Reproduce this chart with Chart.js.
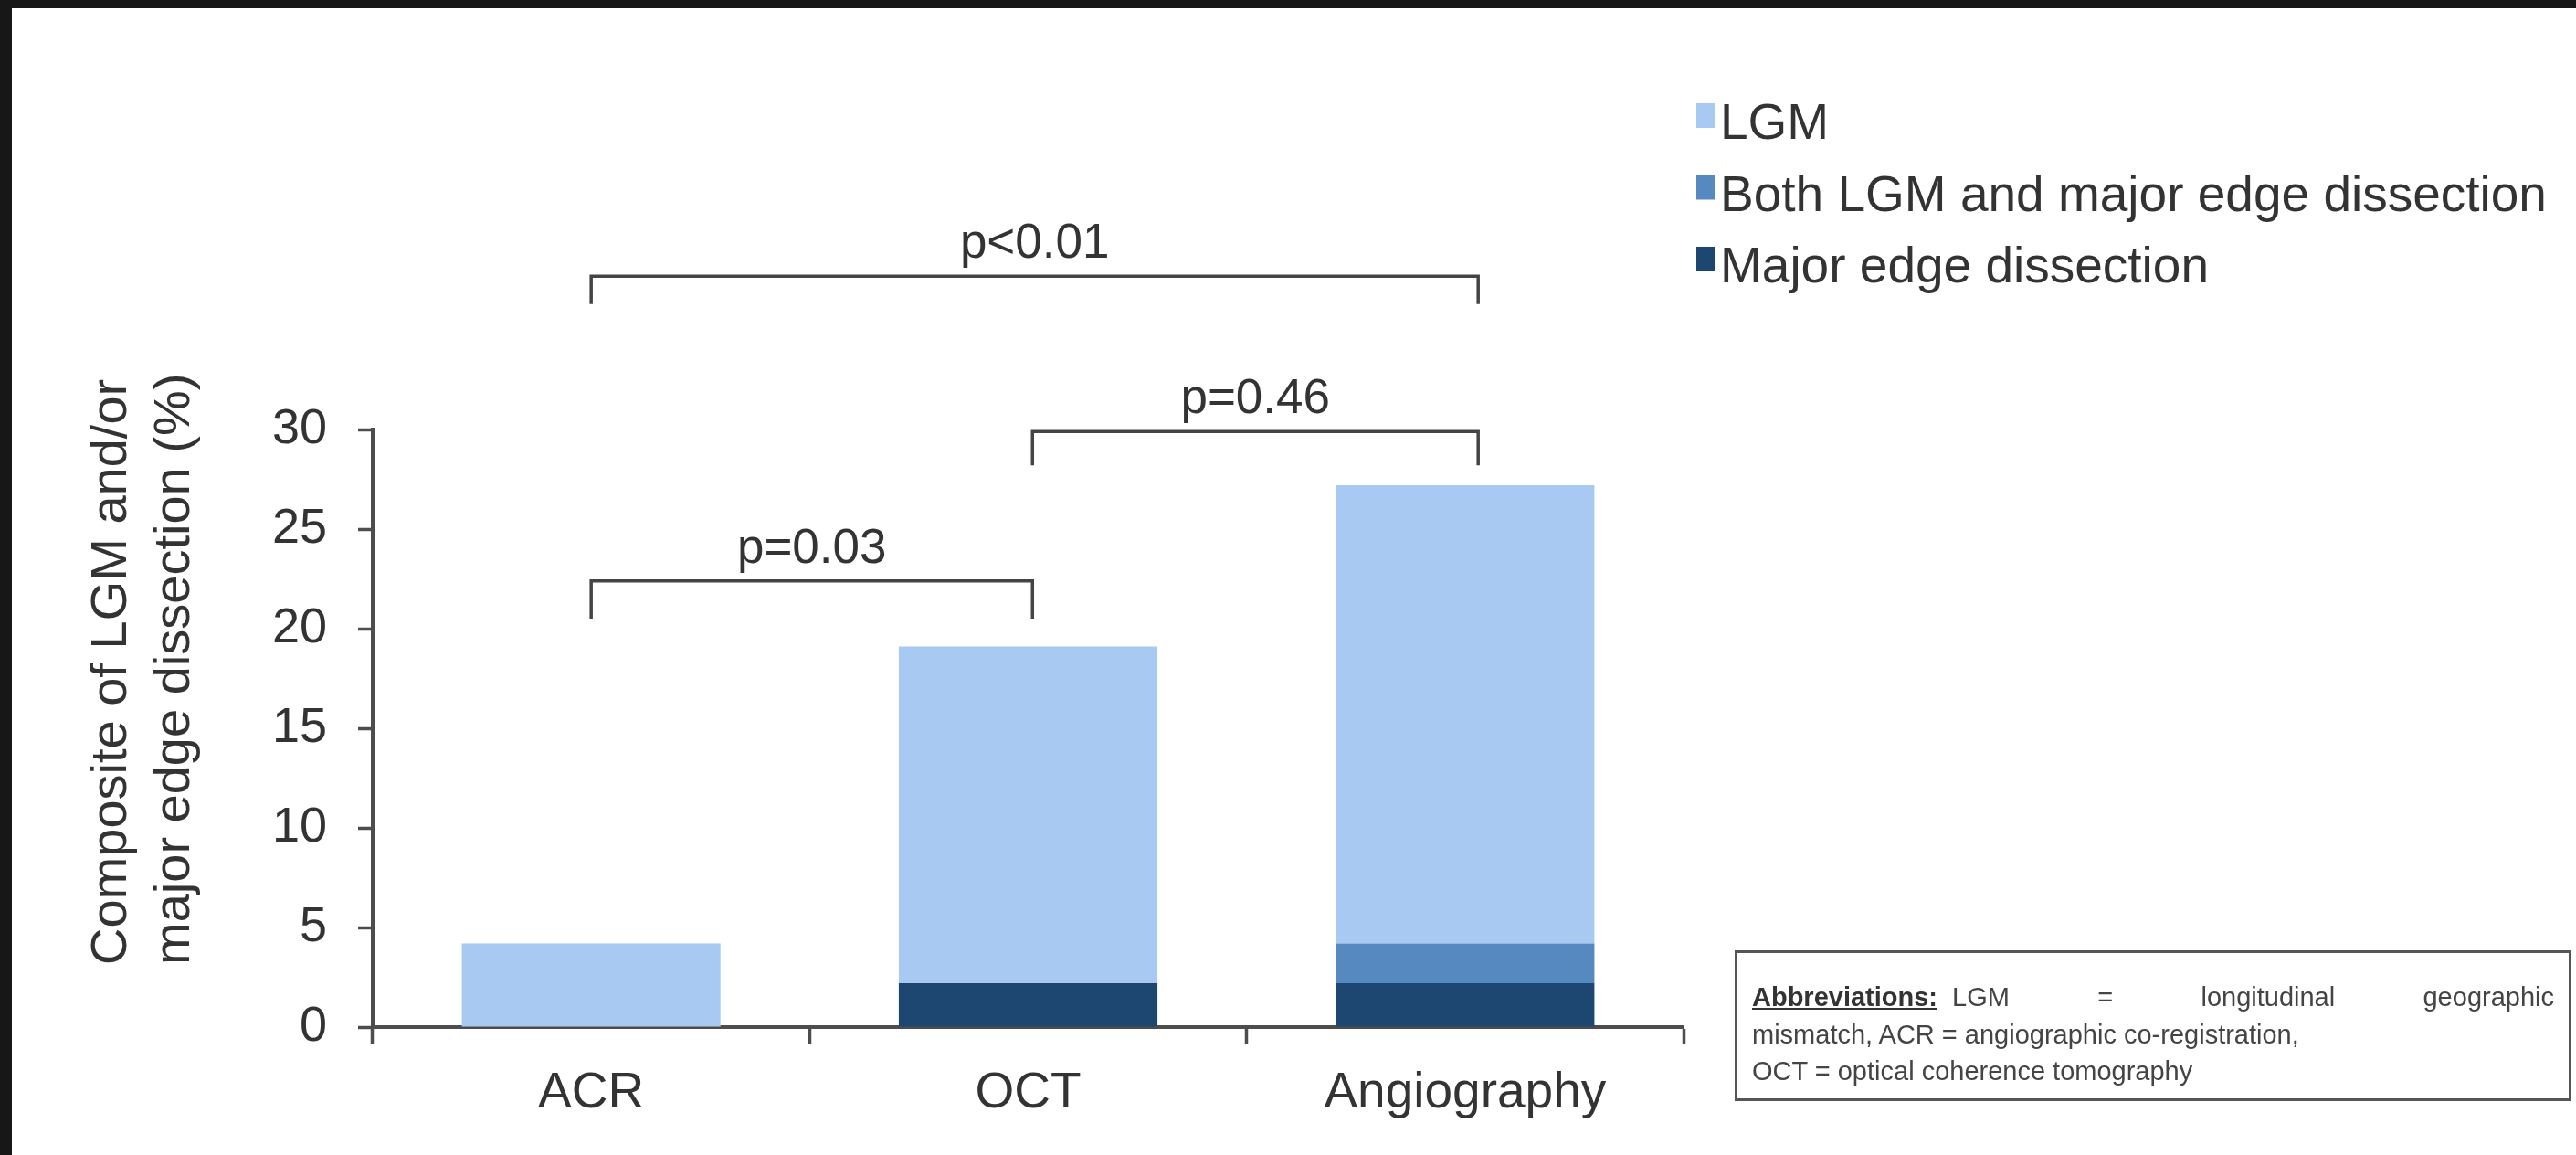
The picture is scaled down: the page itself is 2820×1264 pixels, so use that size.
<!DOCTYPE html>
<html>
<head>
<meta charset="utf-8">
<script src="https://cdn.jsdelivr.net/npm/chart.js@4"></script>
<style>
  html, body { margin: 0; padding: 0; }
  body { width: 2820px; height: 1264px; background: #171717; position: relative; overflow: hidden; }
  #panel { position: absolute; left: 13px; top: 9px; width: 2807px; height: 1255px; background: #fff; }
  #chart { position: absolute; left: 0; top: 0; }
  #abbr {
    position: absolute; left: 1886px; top: 1031px; width: 878px; height: 129px;
    border: 3px solid #555; padding: 28px 16px 2px 16px;
    font-family: "Liberation Sans", Arial, sans-serif; font-size: 29px; line-height: 40.5px; color: #444;
  }
  #abbr .l1 { text-align: justify; text-align-last: justify; }
  #abbr .u { font-weight: bold; text-decoration: underline; color: #333; }
  #abbr .gap { display: inline-block; width: 16px; }
</style>
</head>
<body>
<div id="panel">
  <canvas id="chart" width="2807" height="1255"></canvas>
  <div id="abbr">
    <div class="l1"><span class="u">Abbreviations:<span class="gap">&#8203;</span></span>LGM = longitudinal geographic</div>
    <div>mismatch, ACR = angiographic co-registration,</div>
    <div>OCT = optical coherence tomography</div>
  </div>
</div>
<script>
// categories and stacked values (%)
const categories = ['ACR', 'OCT', 'Angiography'];
const majorEdge = [0, 2.2, 2.2];
const bothLgmMajor = [0, 0, 2.0];
const lgmOnly = [4.2, 16.9, 23.0];

const yTicks = [0, 5, 10, 15, 20, 25, 30];
const yTitle = ['Composite of LGM and/or', 'major edge dissection (%)'];

// significance brackets (x in category index, y in %)
const bracketFrom = [0, 1.01, 0];
const bracketTo = [1.01, 2.03, 2.03];
const bracketLevel = [22.4, 29.9, 37.7];
const bracketEnd = [20.5, 28.2, 36.3];
const bracketText = ['p=0.03', 'p=0.46', 'p<0.01'];

const FONT = '"Liberation Sans", Arial, sans-serif';
const AXIS = '#4d4d4d';
const TEXT = '#333';

// axis title, p value brackets and legend drawn on top of the chart
const extras = {
  id: 'extras',
  afterDraw(chart) {
    const ctx = chart.ctx;
    const x = chart.scales.x, y = chart.scales.y;

    // y axis title, two lines, rotated
    ctx.save();
    ctx.translate(0, 1047);
    ctx.rotate(-Math.PI / 2);
    ctx.fillStyle = TEXT;
    ctx.font = '56px ' + FONT;
    ctx.textAlign = 'left';
    ctx.textBaseline = 'alphabetic';
    ctx.fillText(yTitle[0], 0, 125);
    ctx.fillText(yTitle[1], 0, 194);
    ctx.restore();

    // brackets
    ctx.save();
    ctx.strokeStyle = '#444';
    ctx.lineWidth = 3.5;
    ctx.fillStyle = TEXT;
    ctx.font = '53px ' + FONT;
    ctx.textAlign = 'center';
    ctx.textBaseline = 'alphabetic';
    bracketText.forEach((t, i) => {
      const x1 = x.getPixelForValue(bracketFrom[i]);
      const x2 = x.getPixelForValue(bracketTo[i]);
      const yl = y.getPixelForValue(bracketLevel[i]);
      const ye = y.getPixelForValue(bracketEnd[i]);
      ctx.beginPath();
      ctx.moveTo(x1, ye);
      ctx.lineTo(x1, yl);
      ctx.lineTo(x2, yl);
      ctx.lineTo(x2, ye);
      ctx.stroke();
      ctx.fillText(t, (x1 + x2) / 2, yl - 20);
    });
    ctx.restore();

    // legend (top item = top of stack)
    ctx.save();
    ctx.font = '55px ' + FONT;
    ctx.textAlign = 'left';
    ctx.textBaseline = 'alphabetic';
    const ds = chart.data.datasets.slice().reverse();
    ds.forEach((d, i) => {
      const top = 104 + i * 78.5;
      ctx.fillStyle = d.backgroundColor;
      ctx.fillRect(1844, top, 20, 27);
      ctx.fillStyle = TEXT;
      ctx.fillText(d.label, 1870, top + 39);
    });
    ctx.restore();
  }
};

new Chart(document.getElementById('chart'), {
  type: 'bar',
  data: {
    labels: categories,
    datasets: [
      { label: 'Major edge dissection', data: majorEdge, backgroundColor: '#1d4670' },
      { label: 'Both LGM and major edge dissection', data: bothLgmMajor, backgroundColor: '#5689c0' },
      { label: 'LGM', data: lgmOnly, backgroundColor: '#a8caf2' }
    ]
  },
  options: {
    responsive: false,
    animation: false,
    maintainAspectRatio: false,
    layout: { padding: { left: 0, top: 461, right: 977, bottom: 0 } },
    datasets: { bar: { barPercentage: 0.592, categoryPercentage: 1, borderWidth: 0 } },
    plugins: { legend: { display: false }, tooltip: { enabled: false } },
    scales: {
      x: {
        stacked: true,
        afterFit: s => { s.height = 140; },
        grid: { drawOnChartArea: false, tickLength: 18, tickWidth: 3.5, tickColor: AXIS },
        border: { color: AXIS, width: 4 },
        ticks: { color: TEXT, font: { family: FONT, size: 55 }, padding: 22 }
      },
      y: {
        stacked: true,
        min: 0, max: 30,
        afterFit: s => { s.width = 395; },
        afterBuildTicks: s => { s.ticks = yTicks.map(v => ({ value: v })); },
        grid: { drawOnChartArea: false, tickLength: 16, tickWidth: 3.5, tickColor: AXIS },
        border: { color: AXIS, width: 4 },
        ticks: { color: TEXT, font: { family: FONT, size: 54 }, padding: 34 }
      }
    }
  },
  plugins: [extras]
});
</script>
</body>
</html>
